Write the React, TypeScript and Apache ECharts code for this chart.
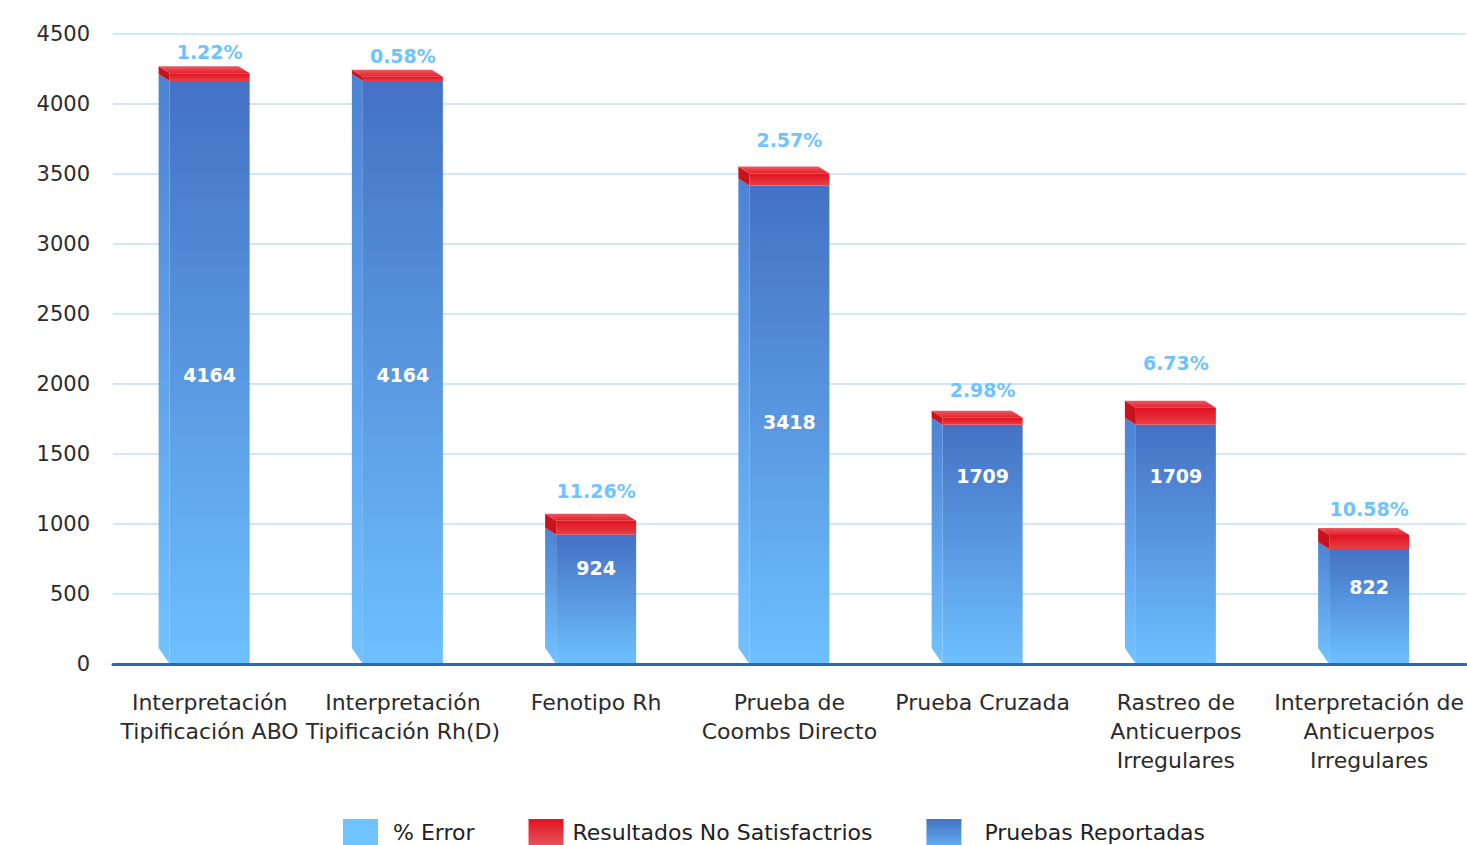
import React, { useEffect, useRef } from "react";
import * as echarts from "echarts";

const categories = [
  "Interpretación\nTipificación ABO",
  "Interpretación\nTipificación Rh(D)",
  "Fenotipo Rh",
  "Prueba de\nCoombs Directo",
  "Prueba Cruzada",
  "Rastreo de\nAnticuerpos\nIrregulares",
  "Interpretación de\nAnticuerpos\nIrregulares",
];
const reported = [4164, 4164, 924, 3418, 1709, 1709, 822];
const unsatisfactory = [55, 30, 100, 86, 50, 121, 100];
const errorPct = ["1.22%", "0.58%", "11.26%", "2.57%", "2.98%", "6.73%", "10.58%"];
const yTicks = { min: 0, max: 4500, interval: 500 };

// layout helpers (not data): where the inside labels sit (value units) and how high the % labels float (px)
const valueLabelAt = [2064, 2064, 686, 1729, 1343, 1343, 550];
const pctLift = [14, 14, 23, 26, 21, 38, 19];

const FONT = "'DejaVu Sans', sans-serif";
const BAR_W = 80;
const DX = 11;
const DY = 7;

const lg = (stops: [number, string][]) =>
  new echarts.graphic.LinearGradient(0, 0, 0, 1, stops.map(([offset, color]) => ({ offset, color })));

export default function App() {
  const ref = useRef<HTMLDivElement>(null);
  useEffect(() => {
    document.body.style.margin = "0";
    const chart = echarts.init(ref.current!, null, { renderer: "svg" });
    const option: any = {
      animation: false,
      grid: { left: 113, right: 0, top: 34, bottom: 181, containLabel: false },
      legend: {
        left: 338,
        top: 814,
        itemWidth: 35,
        itemHeight: 26,
        itemGap: 54,
        icon: "rect",
        textStyle: { fontSize: 22, color: "#222", fontFamily: FONT },
        data: [
          { name: "% Error", itemStyle: { color: "#6fc3ff" }, textStyle: { padding: [0, 0, 0, 10] } },
          {
            name: "Resultados No Satisfactrios",
            itemStyle: { color: lg([[0, "#e3121e"], [1, "#e5525b"]]) },
            textStyle: { padding: [0, 0, 0, 4] },
          },
          {
            name: "Pruebas Reportadas",
            itemStyle: { color: lg([[0, "#4472c4"], [1, "#64aaf0"]]) },
            textStyle: { padding: [0, 0, 0, 18] },
          },
        ],
      },
      xAxis: {
        type: "category",
        data: categories,
        z: 5,
        axisTick: { show: false },
        axisLine: { lineStyle: { color: "#2e6aa6", width: 3 } },
        axisLabel: {
          interval: 0,
          margin: 24,
          fontSize: 22,
          lineHeight: 29,
          color: "#2b2b2b",
          fontFamily: FONT,
        },
      },
      yAxis: {
        type: "value",
        ...yTicks,
        axisLine: { show: false },
        axisTick: { show: false },
        axisLabel: {
          fontSize: 21,
          color: "#2b2b2b",
          margin: 23,
          fontFamily: FONT,
          formatter: (v: number) => String(v),
        },
        splitLine: { lineStyle: { color: "#cfe6fb", width: 2 } },
      },
      series: [
        {
          name: "Pruebas Reportadas",
          type: "custom",
          itemStyle: { color: "#4472c4" },
          data: reported.map((v, i) => [i, v]),
          encode: { x: 0, y: 1 },
          renderItem: (params: any, api: any) => {
            const i = api.value(0);
            const v = api.value(1);
            const [xc, yTop] = api.coord([i, v]);
            const y0 = api.coord([i, 0])[1];
            const x0 = xc - BAR_W / 2;
            const yl = api.coord([i, valueLabelAt[i]])[1];
            return {
              type: "group",
              children: [
                {
                  type: "polygon",
                  shape: { points: [[x0 - DX, yTop - DY], [x0, yTop], [x0, y0], [x0 - DX, y0 - 16]] },
                  style: { fill: lg([[0, "#4d82d3"], [1, "#72c2ff"]]) },
                },
                {
                  type: "rect",
                  shape: { x: x0, y: yTop, width: BAR_W, height: y0 - yTop },
                  style: { fill: lg([[0, "#4471c4"], [1, "#6ec0fe"]]) },
                },
                {
                  type: "text",
                  style: {
                    text: String(v),
                    x: xc,
                    y: yl,
                    align: "center",
                    verticalAlign: "middle",
                    fill: "#ffffff",
                    font: `bold 19px ${FONT}`,
                  },
                },
              ],
            };
          },
        },
        {
          name: "Resultados No Satisfactrios",
          type: "custom",
          itemStyle: { color: "#e3121e" },
          data: unsatisfactory.map((v, i) => [i, v]),
          encode: { x: 0, y: 1 },
          renderItem: (params: any, api: any) => {
            const i = api.value(0);
            const v = api.value(1);
            const base = reported[i];
            const [xc, yBase] = api.coord([i, base]);
            const yTop = api.coord([i, base + v])[1];
            const x0 = xc - BAR_W / 2;
            return {
              type: "group",
              children: [
                {
                  type: "polygon",
                  shape: { points: [[x0 - DX, yTop - DY], [x0, yTop], [x0, yBase], [x0 - DX, yBase - DY]] },
                  style: { fill: "#c8121c" },
                },
                {
                  type: "rect",
                  shape: { x: x0, y: yTop, width: BAR_W, height: yBase - yTop },
                  style: { fill: lg([[0, "#e3121e"], [1, "#e4404a"]]) },
                },
                {
                  type: "polygon",
                  shape: {
                    points: [[x0 - DX, yTop - DY], [x0 + BAR_W - DX, yTop - DY], [x0 + BAR_W, yTop], [x0, yTop]],
                  },
                  style: { fill: lg([[0, "#ec5a63"], [1, "#e3212c"]]) },
                },
              ],
            };
          },
        },
        {
          name: "% Error",
          type: "custom",
          itemStyle: { color: "#6fc3ff" },
          data: errorPct.map((p, i) => [i, reported[i] + unsatisfactory[i], p]),
          encode: { x: 0, y: 1 },
          renderItem: (params: any, api: any) => {
            const i = api.value(0);
            const [xc, yTop] = api.coord([i, api.value(1)]);
            return {
              type: "text",
              style: {
                text: errorPct[i],
                x: xc,
                y: yTop - DY - pctLift[i],
                align: "center",
                verticalAlign: "middle",
                fill: "#6fc3ff",
                font: `bold 19px ${FONT}`,
              },
            };
          },
        },
      ],
    };
    chart.setOption(option);
    return () => chart.dispose();
  }, []);
  return <div ref={ref} style={{ width: 1467, height: 845 }} />;
}
